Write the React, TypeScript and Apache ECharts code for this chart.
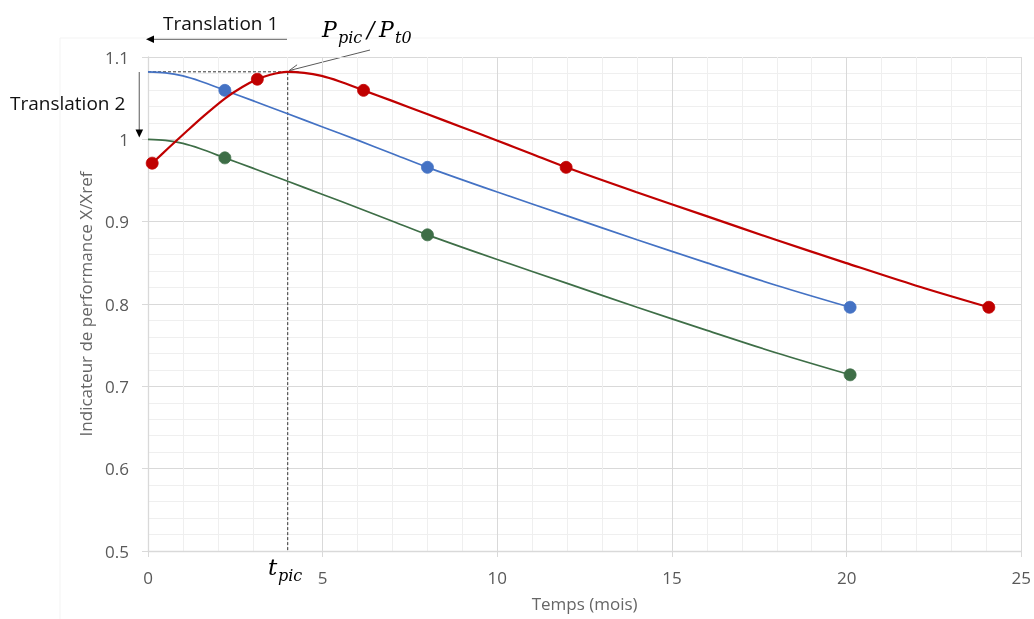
import React, { useEffect, useRef } from "react";
import * as echarts from "echarts";

// ---- Data ----
const blueCurve: number[][] = [
  [0, 1.082], [0.5, 1.0808], [1, 1.077], [1.5, 1.0705], [2.2, 1.0595], [3, 1.047], [4, 1.031], [5, 1.015],
  [6, 0.999], [7, 0.9825], [8, 0.966], [10, 0.936], [12, 0.907], [14, 0.878], [16, 0.85], [18, 0.8225], [20.1, 0.796],
];
const blueMarkers: number[][] = [[2.2, 1.0595], [8, 0.966], [20.1, 0.796]];
const greenCurve: number[][] = [
  [0, 1.0], [0.5, 0.9988], [1, 0.995], [1.5, 0.9885], [2.2, 0.9775], [3, 0.965], [4, 0.949], [5, 0.933],
  [6, 0.917], [7, 0.9005], [8, 0.884], [10, 0.854], [12, 0.825], [14, 0.796], [16, 0.768], [18, 0.7405], [20.1, 0.714],
];
const greenMarkers: number[][] = [[2.2, 0.9775], [8, 0.884], [20.1, 0.714]];
const redCurve: number[][] = [
  [0.12, 0.971], [0.6, 0.99], [1.1, 1.0095], [1.6, 1.0285], [2.2, 1.0495], [2.7, 1.0635], [3.13, 1.073], [3.5, 1.0785],
  [3.97, 1.082], [4.47, 1.0808], [4.97, 1.077], [5.47, 1.0705], [6.17, 1.0595], [6.97, 1.047], [7.97, 1.031], [8.97, 1.015],
  [9.97, 0.999], [10.97, 0.9825], [11.97, 0.966], [13.97, 0.936], [15.97, 0.907], [17.97, 0.878], [19.97, 0.85], [21.97, 0.8225], [24.07, 0.796],
];
const redMarkers: number[][] = [[0.12, 0.971], [3.13, 1.073], [6.17, 1.0595], [11.97, 0.966], [24.07, 0.796]];
const peakGuide: number[][] = [[0, 1.082], [4, 1.082], [4, 0.5]];

const xAxisName = "Temps (mois)";
const yAxisName = "Indicateur de performance X/Xref";
const translation1 = "Translation 1";
const translation2 = "Translation 2";

const BLUE = "#4472C4";
const RED = "#C00000";
const GREEN = "#3E6E47";
const LABEL = "#595959";
const MAJOR = "#d9d9d9";
const MINOR = "#efefef";
const SANS = "'Open Sans', 'Noto Sans', sans-serif";
const SERIF = "'DejaVu Serif', 'Liberation Serif', serif";

function arrowHead(tipX: number, tipY: number, fromX: number, fromY: number, len: number, spread: number) {
  const a = Math.atan2(fromY - tipY, fromX - tipX);
  return [
    [tipX + len * Math.cos(a + spread), tipY + len * Math.sin(a + spread)],
    [tipX, tipY],
    [tipX + len * Math.cos(a - spread), tipY + len * Math.sin(a - spread)],
  ];
}

export default function App() {
  const ref = useRef<HTMLDivElement>(null);
  useEffect(() => {
    if (!ref.current) return;
    const chart = echarts.init(ref.current, null, { renderer: "svg" });
    const lineSeries = (data: number[][], color: string, width: number) => ({
      type: "line",
      data,
      smooth: 0.3,
      showSymbol: false,
      symbol: "none",
      lineStyle: { color, width },
      silent: true,
    });
    const markerSeries = (data: number[][], color: string) => ({
      type: "scatter",
      data,
      symbol: "circle",
      symbolSize: 12,
      itemStyle: { color, borderColor: color, borderWidth: 0.8, opacity: 1 },
      silent: true,
    });
    const mathText = (text: string, x: number, y: number, size: number) => ({
      type: "text",
      x,
      y,
      style: { text, font: `italic ${size}px ${SERIF}`, fill: "#000", verticalAlign: "middle", align: "left" },
    });
    const peakArrow = arrowHead(289, 70.7, 370, 50, 10, 0.38);
    chart.setOption({
      animation: false,
      grid: { left: 148, right: 12, top: 57, bottom: 68, containLabel: false },
      xAxis: {
        type: "value",
        min: 0,
        max: 25,
        interval: 5,
        name: xAxisName,
        nameLocation: "middle",
        nameGap: 44,
        nameTextStyle: { color: "#666", fontSize: 17, fontFamily: SANS },
        axisLine: { show: true, lineStyle: { color: MAJOR, width: 1.3 } },
        axisTick: { show: true, length: 6, lineStyle: { color: MAJOR } },
        axisLabel: { color: LABEL, fontSize: 17, fontFamily: SANS, margin: 18 },
        splitLine: { show: true, lineStyle: { color: MAJOR, width: 1 } },
        minorSplitLine: { show: true, lineStyle: { color: MINOR, width: 1 } },
        minorTick: { show: false, splitNumber: 5 },
      },
      yAxis: {
        type: "value",
        min: 0.5,
        max: 1.1,
        interval: 0.1,
        name: yAxisName,
        nameLocation: "middle",
        nameGap: 51,
        nameTextStyle: { color: "#666", fontSize: 17, fontFamily: SANS },
        axisLine: { show: true, lineStyle: { color: MAJOR, width: 1.3 } },
        axisTick: { show: true, length: 6, lineStyle: { color: MAJOR } },
        axisLabel: { color: LABEL, fontSize: 17, fontFamily: SANS, margin: 19 },
        splitLine: { show: true, lineStyle: { color: MAJOR, width: 1 } },
        minorSplitLine: { show: true, lineStyle: { color: MINOR, width: 1 } },
        minorTick: { show: false, splitNumber: 5 },
      },
      series: [
        {
          type: "line",
          data: peakGuide,
          symbol: "none",
          lineStyle: { color: "#333", width: 1, type: [3, 2] },
          silent: true,
          z: 1,
        },
        lineSeries(blueCurve, BLUE, 1.7),
        markerSeries(blueMarkers, BLUE),
        lineSeries(greenCurve, GREEN, 1.7),
        markerSeries(greenMarkers, GREEN),
        lineSeries(redCurve, RED, 2.2),
        markerSeries(redMarkers, RED),
      ],
      graphic: [
        {
          type: "rect",
          shape: { x: 60, y: 38, width: 1100, height: 700 },
          style: { fill: "none", stroke: "#f3f3f3", lineWidth: 1 },
          silent: true,
          z: -10,
        },
        {
          type: "text",
          x: 163,
          y: 23,
          style: { text: translation1, font: `19px ${SANS}`, fill: "#111", verticalAlign: "middle" },
        },
        {
          type: "text",
          x: 10,
          y: 103,
          style: { text: translation2, font: `19px ${SANS}`, fill: "#111", verticalAlign: "middle" },
        },
        {
          type: "line",
          shape: { x1: 287, y1: 39.3, x2: 153, y2: 39.3 },
          style: { stroke: "#7f7f7f", lineWidth: 1.3 },
        },
        {
          type: "polygon",
          shape: { points: [[146, 39.3], [154, 35.5], [154, 43.1]] },
          style: { fill: "#000" },
        },
        {
          type: "line",
          shape: { x1: 139.3, y1: 72, x2: 139.3, y2: 130 },
          style: { stroke: "#7f7f7f", lineWidth: 1.3 },
        },
        {
          type: "polygon",
          shape: { points: [[139.3, 137.5], [135.5, 129.5], [143.1, 129.5]] },
          style: { fill: "#000" },
        },
        {
          type: "line",
          shape: { x1: 370, y1: 50, x2: 290, y2: 70.4 },
          style: { stroke: "#595959", lineWidth: 1 },
        },
        {
          type: "polyline",
          shape: { points: peakArrow },
          style: { stroke: "#595959", lineWidth: 1, fill: "none" },
        },
        mathText("P", 322, 29, 22),
        mathText("pic", 338, 37, 16),
        mathText("/", 367, 29, 22),
        mathText("P", 379, 29, 22),
        mathText("t0", 395, 37, 16),
        mathText("t", 268, 567, 23),
        mathText("pic", 278, 575, 16),
      ],
    });
    return () => chart.dispose();
  }, []);
  return <div ref={ref} style={{ position: "fixed", left: 0, top: 0, width: 1034, height: 619 }} />;
}
